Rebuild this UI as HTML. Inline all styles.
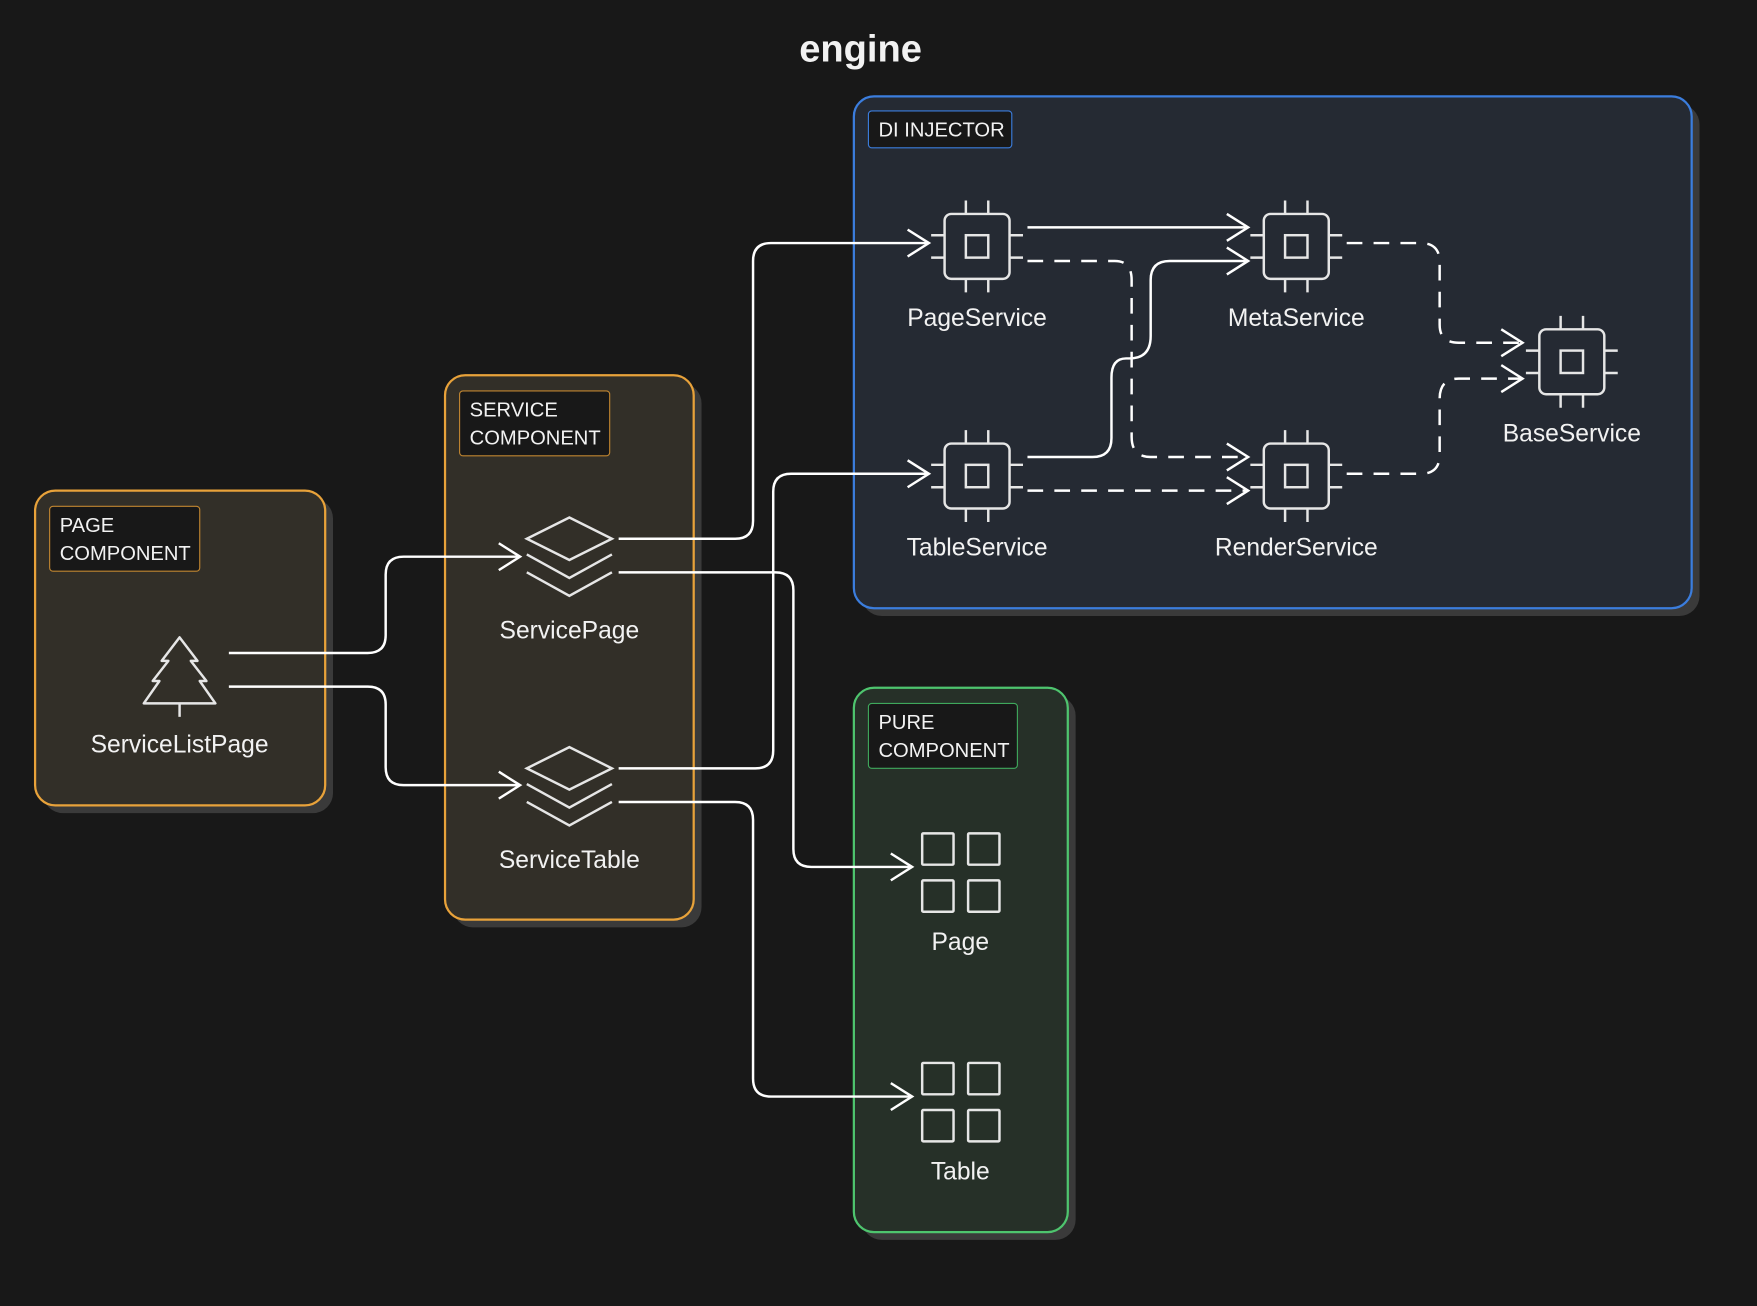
<!DOCTYPE html>
<html><head><meta charset="utf-8"><style>
html,body{margin:0;padding:0;background:#181818;}
svg{display:block}
text{font-family:"Liberation Sans",sans-serif;fill:#f2f2f2}
</style></head><body>
<svg width="1757" height="1306" viewBox="0 0 1568 1166" xmlns="http://www.w3.org/2000/svg">
<defs>
<g id="chip" fill="none" stroke="#e6e6e6" stroke-width="2.2">
<rect x="-29" y="-29" width="58" height="58" rx="6"/>
<rect x="-10" y="-10" width="20" height="20"/>
<path d="M-10,-29v-12M10,-29v-12M-10,29v12M10,29v12M-29,-10h-12M-29,10h-12M29,-10h12M29,10h12"/>
</g>
<g id="layers" fill="none" stroke="#e6e6e6" stroke-width="2.2">
<path d="M0,-33L38,-14L0,5L-38,-14Z"/>
<path d="M-38,0L0,21L38,0"/>
<path d="M-38,16L0,37L38,16"/>
</g>
<g id="grid" fill="none" stroke="#e6e6e6" stroke-width="2.2">
<rect x="-34" y="-28" width="28" height="28" rx="1"/>
<rect x="7" y="-28" width="28" height="28" rx="1"/>
<rect x="-34" y="14" width="28" height="28" rx="1"/>
<rect x="7" y="14" width="28" height="28" rx="1"/>
</g>
</defs>
<rect width="1568" height="1166" fill="#181818"/>
<text x="768" y="55" font-size="34" font-weight="bold" text-anchor="middle">engine</text>

<!-- DI injector -->
<rect x="769" y="93" width="748" height="457" rx="18" fill="#3a3a3a"/>
<rect x="762" y="86" width="748" height="457" rx="18" fill="#252a33" stroke="#3b7ddd" stroke-width="2"/>
<rect x="775" y="99" width="128" height="33" rx="3" fill="#181818" stroke="#3b7ddd" stroke-width="1"/>
<text x="784" y="122" font-size="18">DI INJECTOR</text>

<!-- Page component -->
<rect x="38" y="445" width="259" height="281" rx="18" fill="#3a3a3a"/>
<rect x="31" y="438" width="259" height="281" rx="18" fill="#322f28" stroke="#e8a23a" stroke-width="2"/>
<rect x="44" y="452" width="134" height="58" rx="3" fill="#181818" stroke="#c08530" stroke-width="1"/>
<text x="53" y="475" font-size="18">PAGE</text>
<text x="53" y="500" font-size="18">COMPONENT</text>

<!-- Service component -->
<rect x="404" y="342" width="222" height="486" rx="18" fill="#3a3a3a"/>
<rect x="397" y="335" width="222" height="486" rx="18" fill="#322f28" stroke="#e8a23a" stroke-width="2"/>
<rect x="410" y="349" width="134" height="58" rx="3" fill="#181818" stroke="#c08530" stroke-width="1"/>
<text x="419" y="372" font-size="18">SERVICE</text>
<text x="419" y="397" font-size="18">COMPONENT</text>

<!-- Pure component -->
<rect x="769" y="621" width="191" height="486" rx="18" fill="#3a3a3a"/>
<rect x="762" y="614" width="191" height="486" rx="18" fill="#263028" stroke="#4ec46e" stroke-width="2"/>
<rect x="775" y="628" width="133" height="58" rx="3" fill="#181818" stroke="#3fa85c" stroke-width="1"/>
<text x="784" y="651" font-size="18">PURE</text>
<text x="784" y="676" font-size="18">COMPONENT</text>

<!-- edges -->
<g fill="none" stroke="#ffffff" stroke-width="2.2">
<path d="M204,583H328Q344,583 344,567V513Q344,497 360,497H462"/>
<path d="M204,613H328Q344,613 344,629V685Q344,701 360,701H462"/>
<path d="M552,481H656Q672,481 672,465V233Q672,217 688,217H828"/>
<path d="M552,511H692Q708,511 708,527V758Q708,774 724,774H813"/>
<path d="M552,686H674Q690,686 690,670V439Q690,423 706,423H828"/>
<path d="M552,716H656Q672,716 672,732V963Q672,979 688,979H813"/>
<path d="M917,203H1112"/>
<path d="M917,408H975Q992,408 992,391V337Q992,320 1005,320H1008Q1027,320 1027,300V250Q1027,233 1044,233H1112"/>
<g stroke-dasharray="14,10">
<path d="M917,233H995Q1010,233 1010,250V390Q1010,408 1027,408H1112"/>
<path d="M917,438H1112"/>
<path d="M1202,217H1268Q1285,217 1285,234V290Q1285,306 1302,306H1357"/>
<path d="M1202,423H1268Q1285,423 1285,406V356Q1285,338 1302,338H1357"/>
</g>
<!-- arrowheads -->
<path d="M445,485L464,497L445,509M445,689L464,701L445,713M810,205L829,217L810,229M810,411L829,423L810,435M795,762L814,774L795,786M795,967L814,979L795,991M1095,191L1114,203L1095,215M1095,221L1114,233L1095,245M1095,396L1114,408L1095,420M1095,426L1114,438L1095,450M1340,294L1359,306L1340,318M1340,326L1359,338L1340,350"/>
</g>

<!-- nodes -->
<g fill="none" stroke="#e6e6e6" stroke-width="2.2">
<path d="M160,569L176,590L170,590L184,608L178,608L192,628H128L142,608L136,608L150,590L144,590Z" stroke-linejoin="round"/>
<path d="M160,628V640"/>
</g>
<text x="160" y="672" font-size="22" text-anchor="middle">ServiceListPage</text>

<use href="#layers" x="508" y="495"/>
<text x="508" y="570" font-size="22" text-anchor="middle">ServicePage</text>
<use href="#layers" x="508" y="700"/>
<text x="508" y="775" font-size="22" text-anchor="middle">ServiceTable</text>

<use href="#chip" x="872" y="220"/>
<text x="872" y="291" font-size="22" text-anchor="middle">PageService</text>
<use href="#chip" x="1157" y="220"/>
<text x="1157" y="291" font-size="22" text-anchor="middle">MetaService</text>
<use href="#chip" x="872" y="425"/>
<text x="872" y="496" font-size="22" text-anchor="middle">TableService</text>
<use href="#chip" x="1157" y="425"/>
<text x="1157" y="496" font-size="22" text-anchor="middle">RenderService</text>
<use href="#chip" x="1403" y="323"/>
<text x="1403" y="394" font-size="22" text-anchor="middle">BaseService</text>

<use href="#grid" x="857" y="772"/>
<text x="857" y="848" font-size="22" text-anchor="middle">Page</text>
<use href="#grid" x="857" y="977"/>
<text x="857" y="1053" font-size="22" text-anchor="middle">Table</text>
</svg>
</body></html>
